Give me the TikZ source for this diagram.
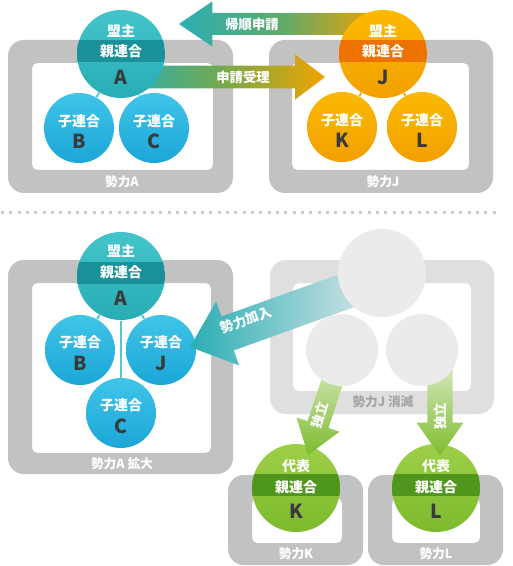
\documentclass[tikz,border=0pt]{standalone}
\usepackage{fontspec}
\setmainfont{Noto Sans CJK JP}
\usetikzlibrary{calc}

\definecolor{framegray}{HTML}{C2C2C2}
\definecolor{fadegray}{HTML}{DFDFDF}
\definecolor{fadecircle}{HTML}{EBEBEB}
\definecolor{fadetext}{HTML}{A4A4A4}
\definecolor{sepgray}{HTML}{CDCDCD}
\definecolor{tealtop}{HTML}{44C4CA}
\definecolor{tealbot}{HTML}{27ADB5}
\definecolor{tealband}{HTML}{1A9098}
\definecolor{cyantop}{HTML}{40C5E8}
\definecolor{cyanbot}{HTML}{1BA6D7}
\definecolor{orgtop}{HTML}{FBB900}
\definecolor{orgbot}{HTML}{F2A000}
\definecolor{orgband}{HTML}{EE7200}
\definecolor{grntop}{HTML}{9DCF48}
\definecolor{grnbot}{HTML}{7CBA2C}
\definecolor{grnband}{HTML}{4F971C}
\definecolor{lettergray}{HTML}{3A3A3A}
\definecolor{tealline}{HTML}{5BC5CF}
\definecolor{orgline}{HTML}{E8A83A}
\definecolor{arrteal}{HTML}{2BAEB4}
\definecolor{arrgreen}{HTML}{74A94C}
\definecolor{arrorange}{HTML}{F2A300}
\definecolor{arrfade}{HTML}{E2E9EA}
\definecolor{grnfade}{HTML}{E4EFD2}
\definecolor{grnarrow}{HTML}{7DBB2E}

\tikzset{every picture/.style={line width=0.75pt}}
\tikzset{
  areaframe/.style={fill=framegray, even odd rule},
  leader/.style={circle, minimum size=66pt, inner sep=0pt,
    path picture={\fill[#1] ($(path picture bounding box.north west)!0.34!(path picture bounding box.south west)$) rectangle ($(path picture bounding box.north east)!0.59!(path picture bounding box.south east)$);}},
  tealhead/.style={leader=tealband, top color=tealtop, bottom color=tealbot},
  orghead/.style={leader=orgband, top color=orgtop, bottom color=orgbot},
  grnhead/.style={leader=grnband, top color=grntop, bottom color=grnbot},
  member/.style={circle, minimum size=52.5pt, inner sep=0pt},
  cyanmember/.style={member, top color=cyantop, bottom color=cyanbot},
  orgmember/.style={member, top color=orgtop, bottom color=orgbot},
  fademember/.style={circle, inner sep=0pt, fill=fadecircle},
  role/.style={text=white, font=\bfseries\fontsize{10.5}{12}\selectfont},
  letter/.style={text=lettergray, font=\bfseries\fontsize{14.5}{15}\selectfont},
  area/.style={text=white, font=\bfseries\fontsize{9.5}{11}\selectfont},
  arrowtext/.style={text=white, font=\bfseries\fontsize{10}{12}\selectfont},
  link/.style={line width=1.5pt},
  fat arrow/.style args={#1/#2/#3}{to path={
    ($(\tikztostart)!#1!90:(\tikztotarget)$)
    -- ($(\tikztotarget)!#3!(\tikztostart)!#1!-90:(\tikztostart)$)
    -- ($(\tikztotarget)!#3!(\tikztostart)!#2!-90:(\tikztostart)$)
    -- (\tikztotarget)
    -- ($(\tikztotarget)!#3!(\tikztostart)!#2!90:(\tikztostart)$)
    -- ($(\tikztotarget)!#3!(\tikztostart)!#1!90:(\tikztostart)$)
    -- ($(\tikztostart)!#1!-90:(\tikztotarget)$) -- cycle}}
}

\begin{document}
\begin{tikzpicture}[x=0.75pt,y=0.75pt,yscale=-1,xscale=1]
	\useasboundingbox (0,0) rectangle (512,566);
	\fill[white] (0,0) rectangle (512,566);

	%Frames (top)
	\fill[areaframe] [rounded corners=12pt] (8,40) rectangle (233,193) [rounded corners=4pt] (32,63) rectangle (213,170);
	\fill[areaframe] [rounded corners=12pt] (269,40) rectangle (493,193) [rounded corners=4pt] (292,63) rectangle (469,170);
	% Text Node
	\node[area] (areaA) at (122,182) {勢力A};
	% Text Node
	\node[area] (areaJ) at (383,182) {勢力J};

	%Arrows (top)
	\coordinate (return-tail) at (383,24);
	\coordinate (return-tip) at (179,24);
	\shade[left color=arrteal, right color=arrorange, middle color=arrgreen!70!arrteal] (return-tail) to[fat arrow=8.25pt/17pt/25pt] (return-tip);
	\node[arrowtext] (return-label) at (252,24) {帰順申請};
	\coordinate (accept-tail) at (121,77);
	\coordinate (accept-tip) at (325,77);
	\shade[left color=arrteal, right color=arrorange, middle color=arrgreen] (accept-tail) to[fat arrow=8.6pt/17pt/22.5pt] (accept-tip);
	\node[arrowtext] (accept-label) at (243,77) {申請受理};

	%Group A (top)
	\node[tealhead] (a1) at (121,54) {};
	\node[cyanmember] (b1) at (79,128) {};
	\node[cyanmember] (c1) at (154,128) {};
	\draw[link, tealline] (a1) -- (b1);
	\draw[link, tealline] (a1) -- (c1);
	\node[role] (a1-role) at (121,31) {盟主};
	\node[role] (a1-kind) at (121,51) {親連合};
	\node[letter] (a1-name) at (121,77) {A};
	\node[role] (b1-kind) at (79,121) {子連合};
	\node[letter] (b1-name) at (79,141) {B};
	\node[role] (c1-kind) at (154,121) {子連合};
	\node[letter] (c1-name) at (154,141) {C};

	%Group J (top)
	\node[orghead] (j1) at (383,54) {};
	\node[orgmember] (k1) at (342,127) {};
	\node[orgmember] (l1) at (422,127) {};
	\draw[link, orgline] (j1) -- (k1);
	\draw[link, orgline] (j1) -- (l1);
	\node[role] (j1-role) at (383,31) {盟主};
	\node[role] (j1-kind) at (383,51) {親連合};
	\node[letter] (j1-name) at (383,77) {J};
	\node[role] (k1-kind) at (342,120) {子連合};
	\node[letter] (k1-name) at (342,140) {K};
	\node[role] (l1-kind) at (422,120) {子連合};
	\node[letter] (l1-name) at (422,140) {L};

	%Separator
	\draw[sepgray, line width=2.25pt, dash pattern={on 2.25pt off 4pt}] (1,213) -- (497,213);

	%Frames (bottom)
	\fill[areaframe] [rounded corners=12pt] (8,260) rectangle (233,474) [rounded corners=4pt] (32,283) rectangle (211,453);
	\fill[areaframe, fill=fadegray] [rounded corners=12pt] (270,260) rectangle (494,414) [rounded corners=4pt] (293,283) rectangle (471,391);
	\fill[areaframe] [rounded corners=12pt] (228,475) rectangle (363,565) [rounded corners=4pt] (252,498) rectangle (342,543);
	\fill[areaframe] [rounded corners=12pt] (368,475) rectangle (503,565) [rounded corners=4pt] (392,498) rectangle (480,543);
	% Text Node
	\node[area] (areaA2) at (122,464) {勢力A 拡大};
	% Text Node
	\node[area, text=fadetext] (areaJ2) at (383,402) {勢力J 消滅};
	% Text Node
	\node[area] (areaK) at (296,554) {勢力K};
	% Text Node
	\node[area] (areaL) at (436,554) {勢力L};

	%Group A enlarged
	\node[tealhead] (a2) at (121,276) {};
	\node[cyanmember] (b2) at (80,350) {};
	\node[cyanmember] (j2) at (161,350) {};
	\node[cyanmember] (c2) at (121,413) {};
	\draw[link, tealline] (a2) -- (b2);
	\draw[link, tealline] (a2) -- (j2);
	\draw[link, tealline] (a2) -- (c2);
	\node[role] (a2-role) at (121,251) {盟主};
	\node[role] (a2-kind) at (121,272) {親連合};
	\node[letter] (a2-name) at (121,298) {A};
	\node[role] (b2-kind) at (80,342) {子連合};
	\node[letter] (b2-name) at (80,363) {B};
	\node[role] (j2-kind) at (161,342) {子連合};
	\node[letter] (j2-name) at (161,363) {J};
	\node[role] (c2-kind) at (121,405) {子連合};
	\node[letter] (c2-name) at (121,426) {C};

	%Groups K and L
	\node[grnhead] (k3) at (296,488) {};
	\node[grnhead] (l3) at (436,488) {};
	\node[role] (k3-role) at (296,466) {代表};
	\node[role] (k3-kind) at (296,487) {親連合};
	\node[letter] (k3-name) at (296,511) {K};
	\node[role] (l3-role) at (436,466) {代表};
	\node[role] (l3-kind) at (436,487) {親連合};
	\node[letter] (l3-name) at (436,511) {L};

	%Arrows (bottom)
	\coordinate (jx-c) at (382,273);
	\coordinate (kx-c) at (342,350);
	\coordinate (lx-c) at (422,350);
	\coordinate (join-tail) at (382,278);
	\coordinate (join-tip) at (190,347);
	\shade[left color=arrteal, right color=arrfade] (join-tail) to[fat arrow=13.5pt/25.5pt/30pt] (join-tip);
	\node[arrowtext, rotate=20] (join-label) at (246,320) {勢力加入};
	\coordinate (split-k-tail) at (342,352);
	\coordinate (split-k-tip) at (308,455);
	\shade[top color=grnfade, bottom color=grnarrow] (split-k-tail) to[fat arrow=8.25pt/17pt/24pt] (split-k-tip);
	\node[arrowtext, rotate=72] (split-k-label) at (320,415) {独立};
	\coordinate (split-l-tail) at (440,352);
	\coordinate (split-l-tip) at (440,456);
	\shade[top color=grnfade, bottom color=grnarrow] (split-l-tail) to[fat arrow=9.4pt/17.6pt/25pt] (split-l-tip);
	\node[arrowtext, rotate=90] (split-l-label) at (440,416) {独立};

	%Group J dissolved
	\node[fademember, minimum size=66pt] (jx) at (jx-c) {};
	\node[fademember, minimum size=54pt] (kx) at (kx-c) {};
	\node[fademember, minimum size=54pt] (lx) at (lx-c) {};

\end{tikzpicture}
\end{document}
